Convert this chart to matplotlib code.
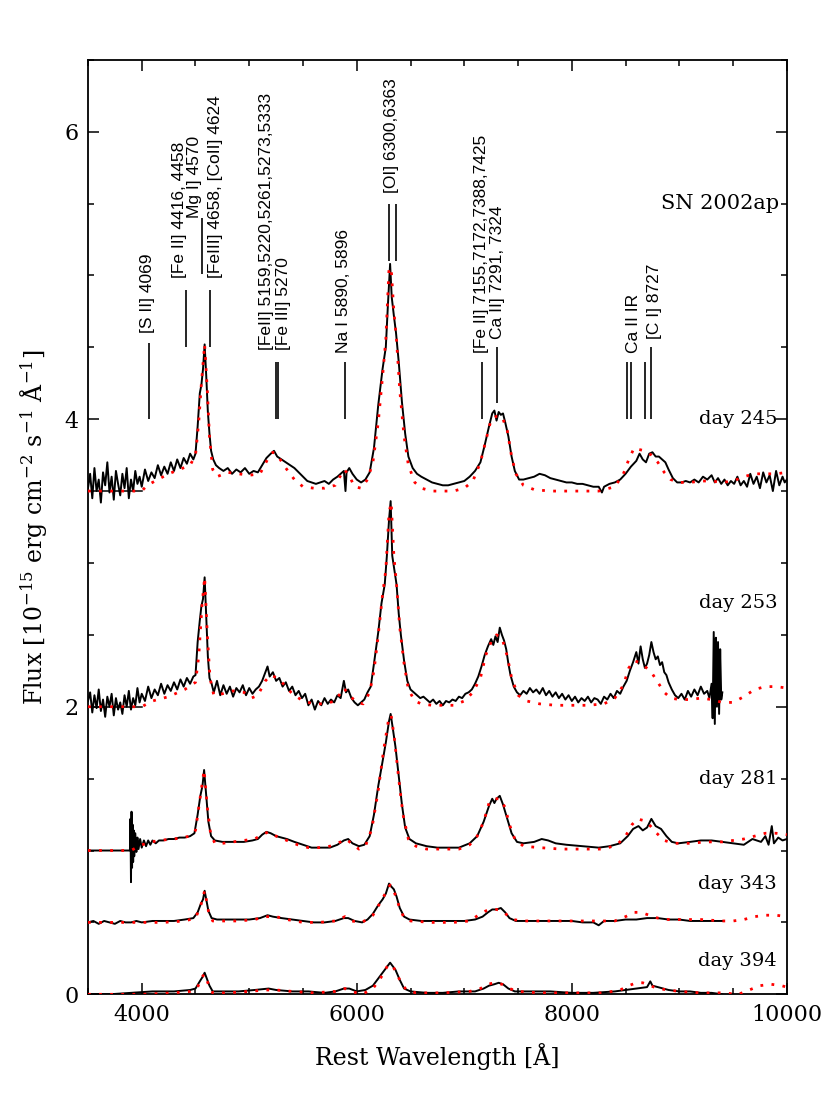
import matplotlib
matplotlib.use('Agg')
import matplotlib.pyplot as plt
from matplotlib.ticker import MultipleLocator

plt.rcParams['font.family'] = ['DejaVu Serif']
plt.rcParams['mathtext.fontset'] = 'dejavuserif'
plt.rcParams['mathtext.default'] = 'regular'

##############################################################################
# Spectra read off the figure (offset already included), observed + model
##############################################################################
wl_245 = [3500, 3520, 3540, 3560, 3580, 3600, 3620, 3640, 3660, 3680, 3700, 3720, 3740, 3760, 3780,
          3800, 3820, 3840, 3860, 3880, 3900, 3920, 3940, 3960, 3980, 4000, 4030, 4060, 4090, 4120,
          4150, 4180, 4210, 4240, 4270, 4300, 4330, 4360, 4390, 4420, 4450, 4480, 4500, 4520, 4540,
          4555, 4570, 4585, 4600, 4615, 4630, 4645, 4665, 4690, 4720, 4760, 4800, 4840, 4880, 4920,
          4960, 5000, 5040, 5080, 5120, 5160, 5200, 5230, 5260, 5300, 5340, 5380, 5420, 5460, 5500,
          5540, 5580, 5620, 5660, 5700, 5740, 5780, 5820, 5850, 5880, 5895, 5905, 5930, 5960, 6000,
          6040, 6080, 6120, 6160, 6200, 6240, 6270, 6290, 6310, 6325, 6345, 6365, 6390, 6420, 6450,
          6480, 6520, 6560, 6600, 6650, 6700, 6750, 6800, 6850, 6900, 6950, 7000, 7050, 7100, 7150,
          7190, 7230, 7260, 7280, 7300, 7320, 7340, 7360, 7380, 7410, 7440, 7470, 7510, 7550, 7600,
          7650, 7700, 7750, 7800, 7850, 7900, 7950, 8000, 8050, 8100, 8150, 8200, 8250, 8280, 8300,
          8350, 8400, 8450, 8500, 8550, 8600, 8630, 8660, 8690, 8720, 8750, 8780, 8810, 8840, 8870,
          8900, 8940, 8980, 9020, 9060, 9100, 9140, 9180, 9220, 9260, 9300, 9330, 9360, 9390, 9420,
          9450, 9480, 9510, 9540, 9570, 9600, 9630, 9660, 9690, 9720, 9750, 9780, 9810, 9840, 9870,
          9900, 9930, 9960, 9980, 10000]
flux_245 = [3.52, 3.62, 3.45, 3.66, 3.50, 3.58, 3.42, 3.63, 3.54, 3.70, 3.49, 3.60, 3.44, 3.64, 3.55,
            3.47, 3.62, 3.52, 3.66, 3.45, 3.58, 3.50, 3.64, 3.55, 3.60, 3.53, 3.65, 3.57, 3.63, 3.59,
            3.68, 3.61, 3.67, 3.62, 3.70, 3.64, 3.72, 3.66, 3.73, 3.69, 3.76, 3.72, 3.76, 3.95, 4.18,
            4.24, 4.35, 4.52, 4.30, 4.05, 3.90, 3.78, 3.72, 3.68, 3.66, 3.64, 3.66, 3.62, 3.65, 3.63,
            3.66, 3.62, 3.64, 3.63, 3.68, 3.73, 3.76, 3.78, 3.74, 3.72, 3.70, 3.68, 3.66, 3.63, 3.60,
            3.57, 3.56, 3.55, 3.56, 3.57, 3.55, 3.58, 3.60, 3.62, 3.64, 3.50, 3.63, 3.66, 3.62, 3.58,
            3.56, 3.58, 3.63, 3.80, 4.10, 4.35, 4.50, 4.80, 5.08, 4.85, 4.72, 4.60, 4.40, 4.12, 3.90,
            3.74, 3.66, 3.62, 3.60, 3.58, 3.56, 3.55, 3.54, 3.54, 3.55, 3.56, 3.57, 3.60, 3.64, 3.70,
            3.82, 3.95, 4.04, 4.06, 3.99, 4.05, 4.03, 4.04, 3.98, 3.88, 3.74, 3.64, 3.58, 3.58, 3.59,
            3.60, 3.62, 3.61, 3.59, 3.58, 3.57, 3.56, 3.56, 3.55, 3.55, 3.54, 3.53, 3.53, 3.49, 3.53,
            3.55, 3.56, 3.58, 3.62, 3.67, 3.71, 3.76, 3.72, 3.70, 3.76, 3.77, 3.74, 3.74, 3.72, 3.70,
            3.65, 3.59, 3.56, 3.56, 3.57, 3.56, 3.58, 3.56, 3.60, 3.58, 3.61, 3.56, 3.59, 3.55, 3.58,
            3.54, 3.57, 3.55, 3.60, 3.54, 3.57, 3.53, 3.62, 3.55, 3.60, 3.52, 3.63, 3.56, 3.61, 3.50,
            3.64, 3.54, 3.60, 3.56, 3.58]
wl_245_mod = [3500, 4000, 4050, 4150, 4250, 4350, 4450, 4500, 4530, 4555, 4585, 4610, 4630, 4660, 4700,
              4800, 4900, 5000, 5100, 5170, 5220, 5270, 5340, 5420, 5500, 5600, 5700, 5800, 5880, 5920,
              5980, 6040, 6100, 6150, 6200, 6240, 6270, 6300, 6320, 6345, 6370, 6400, 6440, 6480, 6540,
              6600, 6700, 6800, 6900, 7000, 7080, 7150, 7200, 7250, 7300, 7350, 7400, 7440, 7480, 7550,
              7650, 7800, 7950, 8100, 8250, 8400, 8480, 8530, 8580, 8620, 8680, 8740, 8800, 8860, 8920,
              9000, 9100, 9200, 9300, 9400, 9500, 9600, 9700, 9800, 9900, 10000]
flux_245_mod = [3.50, 3.50, 3.54, 3.58, 3.62, 3.65, 3.68, 3.75, 3.98, 4.25, 4.52, 4.20, 3.88, 3.65, 3.60,
                3.63, 3.62, 3.61, 3.62, 3.72, 3.77, 3.74, 3.66, 3.58, 3.53, 3.52, 3.52, 3.54, 3.65, 3.62,
                3.53, 3.52, 3.58, 3.70, 3.98, 4.30, 4.55, 5.05, 5.05, 4.75, 4.55, 4.20, 3.88, 3.68, 3.56,
                3.52, 3.50, 3.50, 3.50, 3.52, 3.57, 3.70, 3.85, 4.00, 4.02, 4.02, 3.92, 3.74, 3.62, 3.54,
                3.51, 3.50, 3.50, 3.50, 3.50, 3.53, 3.62, 3.72, 3.80, 3.79, 3.78, 3.75, 3.70, 3.63, 3.58,
                3.56, 3.56, 3.57, 3.57, 3.56, 3.57, 3.60, 3.62, 3.62, 3.62, 3.63]

wl_253 = [3500, 3520, 3540, 3560, 3580, 3600, 3620, 3640, 3660, 3680, 3700, 3720, 3740, 3760, 3780,
          3800, 3820, 3840, 3860, 3880, 3900, 3920, 3940, 3960, 3980, 4000, 4030, 4060, 4090, 4120,
          4150, 4180, 4210, 4240, 4270, 4300, 4330, 4360, 4390, 4420, 4450, 4480, 4500, 4520, 4540,
          4555, 4570, 4585, 4600, 4615, 4630, 4650, 4670, 4700, 4730, 4760, 4790, 4820, 4850, 4880,
          4910, 4940, 4970, 5000, 5030, 5060, 5090, 5120, 5150, 5170, 5190, 5220, 5250, 5280, 5310,
          5340, 5370, 5400, 5430, 5460, 5490, 5520, 5550, 5580, 5610, 5640, 5670, 5700, 5730, 5760,
          5790, 5820, 5850, 5880, 5900, 5920, 5950, 5980, 6010, 6040, 6070, 6100, 6130, 6160, 6200,
          6230, 6260, 6280, 6300, 6315, 6330, 6350, 6370, 6390, 6410, 6440, 6470, 6500, 6530, 6560,
          6590, 6620, 6650, 6680, 6710, 6740, 6770, 6800, 6830, 6860, 6890, 6920, 6950, 6980, 7010,
          7040, 7070, 7100, 7130, 7160, 7190, 7220, 7250, 7270, 7290, 7310, 7330, 7350, 7370, 7390,
          7410, 7430, 7460, 7490, 7520, 7550, 7580, 7610, 7640, 7670, 7700, 7730, 7760, 7790, 7820,
          7850, 7880, 7910, 7940, 7970, 8000, 8030, 8060, 8090, 8120, 8150, 8180, 8210, 8240, 8270,
          8300, 8330, 8360, 8390, 8420, 8450, 8480, 8510, 8540, 8570, 8600, 8620, 8640, 8660, 8680,
          8700, 8720, 8740, 8760, 8780, 8800, 8820, 8840, 8860, 8880, 8900, 8930, 8960, 8990, 9020,
          9050, 9080, 9110, 9140, 9170, 9200, 9230, 9260, 9280, 9300, 9310, 9320, 9330, 9340, 9350,
          9360, 9370, 9380, 9390, 9400]
flux_253 = [2.04, 2.10, 1.96, 2.08, 1.99, 2.12, 1.97, 2.05, 1.93, 2.07, 2.00, 2.09, 1.94, 2.06, 1.98,
            2.03, 1.95, 2.08, 2.00, 2.11, 1.98, 2.06, 2.01, 2.13, 2.03, 2.09, 2.04, 2.14, 2.06, 2.12,
            2.08, 2.16, 2.09, 2.15, 2.11, 2.17, 2.12, 2.19, 2.14, 2.20, 2.16, 2.21, 2.22, 2.45, 2.60,
            2.70, 2.75, 2.90, 2.62, 2.35, 2.20, 2.16, 2.10, 2.18, 2.08, 2.15, 2.09, 2.14, 2.07, 2.13,
            2.10, 2.15, 2.08, 2.13, 2.09, 2.12, 2.14, 2.18, 2.24, 2.28, 2.21, 2.24, 2.18, 2.20, 2.14,
            2.17, 2.11, 2.14, 2.08, 2.11, 2.06, 2.09, 2.01, 2.05, 1.98, 2.04, 2.01, 2.06, 2.02, 2.05,
            2.03, 2.08, 2.06, 2.18, 2.10, 2.12, 2.06, 2.03, 2.01, 2.03, 2.05, 2.10, 2.14, 2.30, 2.52,
            2.72, 2.85, 3.05, 3.30, 3.43, 3.05, 2.95, 2.85, 2.65, 2.50, 2.32, 2.18, 2.12, 2.10, 2.08,
            2.06, 2.07, 2.05, 2.03, 2.05, 2.02, 2.04, 2.01, 2.04, 2.03, 2.05, 2.04, 2.07, 2.06, 2.09,
            2.10, 2.12, 2.16, 2.21, 2.28, 2.36, 2.42, 2.47, 2.43, 2.49, 2.45, 2.55, 2.50, 2.46, 2.40,
            2.30, 2.22, 2.14, 2.10, 2.08, 2.11, 2.09, 2.13, 2.10, 2.12, 2.09, 2.13, 2.08, 2.11, 2.07,
            2.10, 2.06, 2.09, 2.05, 2.08, 2.04, 2.07, 2.03, 2.06, 2.04, 2.07, 2.03, 2.06, 2.05, 2.02,
            2.07, 2.05, 2.09, 2.06, 2.11, 2.09, 2.14, 2.18, 2.25, 2.31, 2.38, 2.30, 2.42, 2.33, 2.27,
            2.30, 2.36, 2.45, 2.38, 2.33, 2.35, 2.29, 2.31, 2.24, 2.22, 2.17, 2.12, 2.08, 2.06, 2.09,
            2.05, 2.11, 2.07, 2.12, 2.08, 2.14, 2.09, 2.11, 2.06, 2.16, 1.92, 2.52, 1.88, 2.48, 2.00,
            2.45, 1.95, 2.40, 2.05, 2.10]
wl_253_mod = [3500, 4000, 4100, 4250, 4400, 4500, 4530, 4560, 4585, 4610, 4635, 4670, 4750, 4850, 4950,
              5020, 5080, 5150, 5200, 5260, 5330, 5400, 5500, 5600, 5700, 5800, 5880, 5930, 6000, 6060,
              6120, 6160, 6200, 6240, 6270, 6300, 6320, 6345, 6370, 6400, 6440, 6480, 6540, 6600, 6700,
              6800, 6900, 7000, 7080, 7150, 7200, 7250, 7300, 7350, 7400, 7440, 7500, 7580, 7700, 7850,
              8000, 8150, 8300, 8400, 8480, 8530, 8580, 8620, 8680, 8740, 8800, 8860, 8920, 9000, 9100,
              9200, 9300, 9400, 9500, 9600, 9700, 9800, 9900, 10000]
flux_253_mod = [2.00, 2.00, 2.04, 2.07, 2.12, 2.17, 2.35, 2.70, 2.90, 2.50, 2.20, 2.08, 2.09, 2.11, 2.10,
                2.06, 2.08, 2.18, 2.22, 2.20, 2.15, 2.09, 2.04, 2.02, 2.02, 2.04, 2.13, 2.08, 2.03, 2.02,
                2.10, 2.25, 2.50, 2.78, 2.95, 3.35, 3.42, 3.05, 2.85, 2.55, 2.30, 2.12, 2.04, 2.02, 2.01,
                2.01, 2.01, 2.04, 2.10, 2.20, 2.36, 2.45, 2.50, 2.48, 2.35, 2.20, 2.08, 2.04, 2.02, 2.01,
                2.01, 2.01, 2.02, 2.06, 2.15, 2.27, 2.32, 2.31, 2.28, 2.24, 2.17, 2.10, 2.06, 2.05, 2.05,
                2.06, 2.05, 2.03, 2.03, 2.07, 2.12, 2.14, 2.14, 2.13]

wl_281 = [3500, 3890, 3895, 3900, 3905, 3910, 3915, 3920, 3925, 3930, 3940, 3950, 3960, 3970, 3985,
          4000, 4020, 4040, 4060, 4080, 4100, 4130, 4160, 4200, 4250, 4300, 4350, 4400, 4450, 4490,
          4520, 4545, 4565, 4580, 4600, 4620, 4645, 4680, 4750, 4850, 4950, 5030, 5080, 5120, 5160,
          5200, 5250, 5300, 5350, 5420, 5500, 5580, 5650, 5750, 5820, 5880, 5920, 5960, 6020, 6070,
          6120, 6160, 6200, 6240, 6270, 6300, 6315, 6335, 6360, 6390, 6420, 6450, 6490, 6550, 6650,
          6750, 6850, 6950, 7050, 7120, 7180, 7230, 7260, 7280, 7300, 7330, 7360, 7400, 7440, 7490,
          7550, 7650, 7720, 7780, 7850, 7950, 8100, 8250, 8350, 8450, 8520, 8570, 8620, 8660, 8700,
          8740, 8780, 8830, 8880, 8930, 8990, 9100, 9200, 9300, 9400, 9500, 9600, 9680, 9720, 9760,
          9800, 9830, 9860, 9880, 9920, 9960, 10000]
flux_281 = [1.00, 1.00, 1.22, 0.78, 1.27, 0.88, 1.18, 0.92, 1.14, 0.96, 1.12, 0.99, 1.09, 1.01, 1.08,
            1.02, 1.07, 1.03, 1.07, 1.04, 1.07, 1.05, 1.07, 1.07, 1.08, 1.08, 1.09, 1.09, 1.10, 1.12,
            1.25, 1.38, 1.45, 1.56, 1.38, 1.20, 1.10, 1.07, 1.06, 1.06, 1.06, 1.07, 1.08, 1.11, 1.13,
            1.12, 1.10, 1.09, 1.08, 1.06, 1.04, 1.02, 1.02, 1.02, 1.04, 1.07, 1.08, 1.05, 1.03, 1.04,
            1.10, 1.25, 1.45, 1.62, 1.75, 1.90, 1.95, 1.85, 1.72, 1.52, 1.32, 1.16, 1.08, 1.05, 1.03,
            1.02, 1.02, 1.02, 1.05, 1.10, 1.20, 1.31, 1.36, 1.33, 1.36, 1.38, 1.32, 1.22, 1.12, 1.06,
            1.05, 1.06, 1.08, 1.07, 1.05, 1.04, 1.03, 1.02, 1.03, 1.05, 1.10, 1.15, 1.17, 1.14, 1.16,
            1.22, 1.17, 1.15, 1.10, 1.06, 1.05, 1.06, 1.07, 1.07, 1.06, 1.05, 1.04, 1.08, 1.07, 1.06,
            1.10, 1.04, 1.17, 1.05, 1.09, 1.07, 1.08]
wl_281_mod = [3500, 3900, 3950, 4000, 4150, 4300, 4450, 4500, 4540, 4580, 4610, 4640, 4680, 4750, 4850,
              4950, 5050, 5120, 5180, 5250, 5350, 5450, 5550, 5650, 5750, 5850, 5900, 5950, 6020, 6080,
              6140, 6200, 6250, 6300, 6320, 6350, 6390, 6430, 6480, 6550, 6650, 6800, 6950, 7050, 7120,
              7180, 7230, 7280, 7330, 7380, 7420, 7470, 7550, 7700, 7900, 8100, 8300, 8420, 8500, 8560,
              8610, 8660, 8720, 8790, 8860, 8950, 9100, 9250, 9400, 9500, 9600, 9700, 9800, 9900, 10000]
flux_281_mod = [1.00, 1.00, 1.02, 1.04, 1.07, 1.08, 1.10, 1.14, 1.35, 1.56, 1.30, 1.12, 1.05, 1.05, 1.06,
                1.07, 1.08, 1.11, 1.13, 1.10, 1.07, 1.04, 1.02, 1.02, 1.03, 1.06, 1.08, 1.05, 1.01, 1.03,
                1.15, 1.42, 1.70, 1.93, 1.94, 1.78, 1.50, 1.25, 1.08, 1.03, 1.01, 1.01, 1.01, 1.04, 1.10,
                1.20, 1.33, 1.36, 1.36, 1.30, 1.18, 1.08, 1.03, 1.02, 1.01, 1.01, 1.01, 1.04, 1.10, 1.18,
                1.22, 1.21, 1.18, 1.12, 1.07, 1.05, 1.05, 1.06, 1.06, 1.07, 1.08, 1.10, 1.12, 1.12, 1.11]

wl_343 = [3500, 3550, 3600, 3650, 3700, 3750, 3800, 3850, 3900, 3950, 4000, 4100, 4200, 4300, 4400,
          4480, 4520, 4550, 4570, 4585, 4600, 4620, 4650, 4700, 4800, 4900, 5000, 5100, 5170, 5220,
          5300, 5400, 5500, 5600, 5700, 5800, 5880, 5920, 5980, 6050, 6100, 6150, 6200, 6240, 6270,
          6300, 6320, 6345, 6370, 6400, 6440, 6490, 6600, 6700, 6800, 6900, 7000, 7100, 7170, 7220,
          7260, 7300, 7340, 7380, 7420, 7480, 7600, 7700, 7800, 7900, 8000, 8100, 8200, 8250, 8300,
          8400, 8500, 8600, 8700, 8800, 8900, 9000, 9100, 9200, 9300, 9400]
flux_343 = [0.50, 0.51, 0.49, 0.51, 0.50, 0.49, 0.51, 0.50, 0.50, 0.51, 0.50, 0.51, 0.51, 0.51, 0.52,
            0.53, 0.57, 0.63, 0.66, 0.72, 0.66, 0.58, 0.53, 0.52, 0.52, 0.52, 0.52, 0.53, 0.55, 0.54,
            0.53, 0.52, 0.51, 0.50, 0.50, 0.51, 0.53, 0.53, 0.51, 0.50, 0.52, 0.56, 0.62, 0.66, 0.70,
            0.77, 0.75, 0.73, 0.68, 0.60, 0.54, 0.52, 0.51, 0.51, 0.51, 0.51, 0.51, 0.52, 0.54, 0.57,
            0.59, 0.59, 0.60, 0.57, 0.53, 0.51, 0.51, 0.51, 0.51, 0.51, 0.51, 0.50, 0.50, 0.48, 0.51,
            0.51, 0.52, 0.52, 0.53, 0.53, 0.52, 0.52, 0.51, 0.51, 0.51, 0.51]
wl_343_mod = [3500, 4000, 4200, 4400, 4500, 4550, 4585, 4620, 4660, 4750, 4900, 5050, 5150, 5250, 5350,
              5500, 5650, 5800, 5890, 5950, 6050, 6150, 6220, 6280, 6310, 6340, 6390, 6440, 6500, 6700,
              6900, 7050, 7150, 7200, 7250, 7300, 7350, 7400, 7450, 7550, 7800, 8100, 8400, 8500, 8580,
              8640, 8720, 8800, 8900, 9000, 9200, 9400, 9500, 9600, 9700, 9800, 9900, 10000]
flux_343_mod = [0.50, 0.50, 0.50, 0.51, 0.53, 0.62, 0.72, 0.58, 0.51, 0.51, 0.51, 0.52, 0.54, 0.54, 0.52,
                0.50, 0.50, 0.51, 0.54, 0.51, 0.50, 0.55, 0.64, 0.72, 0.76, 0.73, 0.62, 0.53, 0.51, 0.50,
                0.50, 0.51, 0.56, 0.58, 0.59, 0.59, 0.58, 0.55, 0.52, 0.51, 0.51, 0.51, 0.51, 0.54, 0.57,
                0.57, 0.55, 0.53, 0.52, 0.52, 0.52, 0.51, 0.51, 0.52, 0.54, 0.55, 0.55, 0.54]

wl_394 = [3500, 3700, 3900, 4100, 4300, 4450, 4500, 4540, 4565, 4585, 4600, 4630, 4660, 4750, 4900,
          5050, 5180, 5250, 5400, 5550, 5700, 5800, 5880, 5930, 6000, 6080, 6150, 6200, 6250, 6290,
          6310, 6330, 6360, 6400, 6440, 6500, 6650, 6800, 6950, 7100, 7180, 7230, 7280, 7320, 7360,
          7410, 7470, 7600, 7800, 8000, 8200, 8400, 8500, 8600, 8700, 8730, 8750, 8800, 8900, 9000,
          9100, 9200, 9300, 9400]
flux_394 = [0.00, 0.00, 0.01, 0.02, 0.02, 0.03, 0.04, 0.09, 0.12, 0.15, 0.12, 0.06, 0.02, 0.02, 0.02,
            0.03, 0.04, 0.03, 0.02, 0.02, 0.01, 0.02, 0.04, 0.04, 0.02, 0.03, 0.06, 0.11, 0.16, 0.20,
            0.22, 0.20, 0.17, 0.10, 0.04, 0.02, 0.01, 0.01, 0.02, 0.02, 0.04, 0.06, 0.07, 0.08, 0.07,
            0.04, 0.02, 0.02, 0.02, 0.01, 0.01, 0.02, 0.03, 0.04, 0.05, 0.09, 0.06, 0.05, 0.03, 0.02,
            0.02, 0.01, 0.01, 0.00]
wl_394_mod = [3500, 4000, 4300, 4450, 4520, 4560, 4585, 4620, 4660, 4800, 5000, 5150, 5250, 5400, 5600,
              5800, 5890, 5950, 6050, 6150, 6220, 6280, 6310, 6340, 6400, 6460, 6550, 6800, 7050, 7150,
              7220, 7280, 7350, 7420, 7500, 7700, 8000, 8300, 8450, 8530, 8600, 8660, 8730, 8800, 8900,
              9000, 9200, 9400, 9550, 9650, 9750, 9850, 9950, 10000]
flux_394_mod = [0.00, 0.00, 0.01, 0.02, 0.05, 0.12, 0.14, 0.07, 0.01, 0.01, 0.02, 0.03, 0.03, 0.02, 0.01,
                0.02, 0.04, 0.02, 0.00, 0.04, 0.11, 0.19, 0.21, 0.19, 0.10, 0.03, 0.01, 0.01, 0.02, 0.04,
                0.07, 0.08, 0.07, 0.04, 0.02, 0.01, 0.01, 0.01, 0.03, 0.06, 0.08, 0.08, 0.06, 0.04, 0.03,
                0.02, 0.01, 0.01, 0.00, 0.03, 0.06, 0.07, 0.06, 0.05]

# zero-level markers drawn at the blue end of the two upper spectra
zero_wl = [3500, 4000]
zero_245 = [3.5, 3.5]
zero_253 = [2.0, 2.0]

# epoch labels
day_text = ['day 245', 'day 253', 'day 281', 'day 343', 'day 394']
day_y = [4.0, 2.72, 1.50, 0.77, 0.23]

# line identifications: tick positions and label positions
tick_wl = [4070, 4413, 4560, 4637, 5250, 5271, 5893, 6300, 6363, 7165, 7305, 8510, 8550, 8680, 8738]
tick_lo = [4.00, 4.50, 5.01, 4.50, 4.00, 4.00, 4.00, 5.10, 5.10, 4.00, 4.11, 4.00, 4.00, 4.00, 4.00]
tick_hi = [4.53, 4.90, 5.40, 4.90, 4.40, 4.40, 4.40, 5.50, 5.50, 4.40, 4.50, 4.40, 4.40, 4.40, 4.50]

id_text = ['[S II] 4069', '[Fe II] 4416, 4458', 'Mg I] 4570', '[FeIII] 4658, [CoII] 4624',
           '[FeII] 5159,5220,5261,5273,5333', '[Fe III] 5270', 'Na I 5890, 5896', '[OI] 6300,6363',
           '[Fe II] 7155,7172,7388,7425', 'Ca II] 7291, 7324', 'Ca II IR', '[C I] 8727']
id_x = [4058, 4350, 4495, 4685, 5162, 5317, 5874, 6325, 7161, 7313, 8578, 8770]
id_y = [4.60, 4.98, 5.40, 4.98, 4.48, 4.48, 4.46, 5.57, 4.46, 4.56, 4.46, 4.56]

##############################################################################
# Plotting
##############################################################################
fig = plt.figure(figsize=(8.3, 11.06), dpi=100)
ax = fig.add_axes([0.106, 0.101, 0.842, 0.845])

obs = [(wl_245, flux_245), (wl_253, flux_253), (wl_281, flux_281), (wl_343, flux_343), (wl_394, flux_394)]
mod = [(wl_245_mod, flux_245_mod), (wl_253_mod, flux_253_mod), (wl_281_mod, flux_281_mod),
       (wl_343_mod, flux_343_mod), (wl_394_mod, flux_394_mod)]

for w, f in obs:
    ax.plot(w, f, color='black', lw=1.4, zorder=2)
ax.plot(zero_wl, zero_245, color='black', lw=1.1, zorder=2)
ax.plot(zero_wl, zero_253, color='black', lw=1.1, zorder=2)
for w, f in mod:
    ax.plot(w, f, color='red', lw=2.0, ls=(0, (1, 3)), zorder=3)

ax.vlines(tick_wl, tick_lo, tick_hi, color='black', lw=1.2)
for t, x, y in zip(id_text, id_x, id_y):
    ax.text(x, y, t, rotation=90, ha='center', va='bottom', fontsize=12.5,
            family=['Liberation Sans', 'DejaVu Sans'])

for t, y in zip(day_text, day_y):
    ax.text(9910, y, t, ha='right', va='center', fontsize=14)
ax.text(9930, 5.5, 'SN 2002ap', ha='right', va='center', fontsize=15)

ax.set_xlim(3500, 10000)
ax.set_ylim(0, 6.5)
ax.xaxis.set_major_locator(MultipleLocator(2000))
ax.xaxis.set_minor_locator(MultipleLocator(500))
ax.yaxis.set_major_locator(MultipleLocator(2))
ax.yaxis.set_minor_locator(MultipleLocator(0.5))
ax.tick_params(which='both', direction='in', top=True, right=True, width=1.1)
ax.tick_params(which='major', length=8, labelsize=16, pad=7)
ax.tick_params(which='minor', length=4)
for s in ax.spines.values():
    s.set_linewidth(1.3)

ax.set_xlabel('Rest Wavelength [Å]', fontsize=17, labelpad=12)
ax.set_ylabel(r'Flux [10$^{-15}$ erg cm$^{-2}$ s$^{-1}$ Å$^{-1}$]', fontsize=17, labelpad=10)

fig.savefig('out.png', dpi=100)
